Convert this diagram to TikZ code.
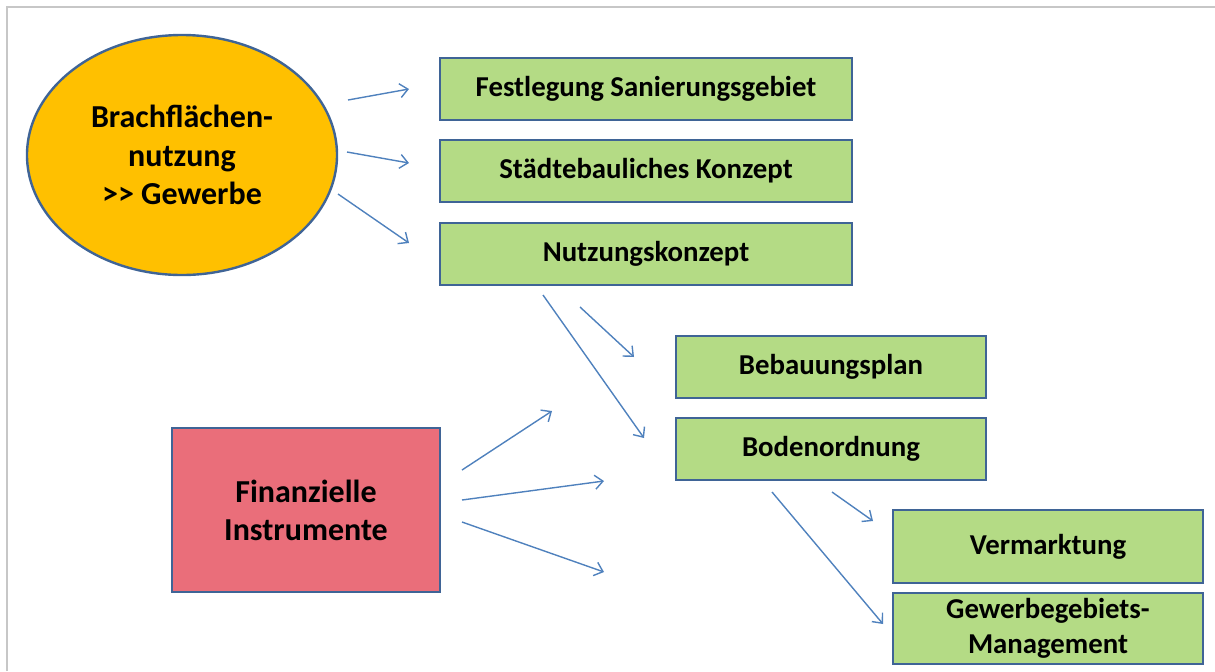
\documentclass[tikz,border=0pt]{standalone}
\usepackage{fontspec}
\setmainfont{Carlito}
\usetikzlibrary{
    arrows.meta,
    shapes.geometric
}
\definecolor{rahmen}{RGB}{63,100,150}
\definecolor{gruen}{RGB}{180,219,133}
\definecolor{gold}{RGB}{255,192,0}
\definecolor{rosa}{RGB}{234,110,122}
\definecolor{pfeilblau}{RGB}{79,129,189}
\tikzset {
    frame/.style = {draw = black!22, line width = 1pt},
    box/.style = {
        draw = rahmen, line width = 1.2pt, fill = gruen,
        minimum width = 206pt, minimum height = 31pt,
        align = center, inner sep = 0pt,
        font = \fontsize{14.4}{17.5}\selectfont\bfseries
    },
    smallbox/.style = {box, minimum width = 155pt},
    oval/.style = {
        ellipse, draw = rahmen, line width = 1.2pt, fill = gold,
        minimum width = 155pt, minimum height = 120pt,
        align = center, inner sep = 0pt,
        font = \fontsize{16}{19.3}\selectfont\bfseries
    },
    redbox/.style = {
        draw = rahmen, line width = 1.2pt, fill = rosa,
        minimum width = 134pt, minimum height = 82pt,
        align = center, inner sep = 0pt,
        font = \fontsize{16}{19}\selectfont\bfseries
    },
    pfeil/.style = {
        draw = pfeilblau, line width = 0.7pt,
        -{Straight Barb[length = 4pt, width = 7pt]}
    }
}
\begin{document}
\begin{tikzpicture}[x = 0.5pt, y = -0.5pt]
            \useasboundingbox (0, 0) rectangle (1215, 671);
            \draw [frame] (7, 671) -- (7, 7) -- (1215, 7);
            % ovals and boxes
            \node (brache) [oval] at (182, 155) {Brachflächen-\\nutzung\\>{}> Gewerbe};
            \node (sanierung) [box] at (646, 89) {Festlegung Sanierungsgebiet};
            \node (konzept) [box] at (646, 171) {Städtebauliches Konzept};
            \node (nutzung) [box] at (646, 254) {Nutzungskonzept};
            \node (bplan) [smallbox] at (831, 367) {Bebauungsplan};
            \node (boden) [smallbox] at (831, 449) {Bodenordnung};
            \node (markt) [smallbox, minimum height = 36.5pt] at (1048, 546.5) {Vermarktung};
            \node (management) [smallbox, minimum height = 35.5pt] at (1048, 628.5) {Gewerbegebiets-\\Management};
            \node (finanz) [redbox] at (306, 510) {Finanzielle\\Instrumente};
            % loose arrow ends
            \coordinate (b1) at (348, 100);  \coordinate (b1e) at (409, 89);
            \coordinate (b2) at (347, 152);  \coordinate (b2e) at (409, 163);
            \coordinate (b3) at (338, 194);  \coordinate (b3e) at (409, 243);
            \coordinate (n1) at (543, 295);  \coordinate (n1e) at (644, 438);
            \coordinate (n2) at (580, 307);  \coordinate (n2e) at (634, 357);
            \coordinate (f1) at (462, 470);  \coordinate (f1e) at (552, 411);
            \coordinate (f2) at (462, 500);  \coordinate (f2e) at (604, 481);
            \coordinate (f3) at (462, 522);  \coordinate (f3e) at (604, 572);
            \coordinate (d1) at (772, 492);  \coordinate (d1e) at (883, 624);
            \coordinate (d2) at (832, 492);  \coordinate (d2e) at (873, 521);
            \draw [pfeil] (b1) -- (b1e);
            \draw [pfeil] (b2) -- (b2e);
            \draw [pfeil] (b3) -- (b3e);
            \draw [pfeil] (n1) -- (n1e);
            \draw [pfeil] (n2) -- (n2e);
            \draw [pfeil] (f1) -- (f1e);
            \draw [pfeil] (f2) -- (f2e);
            \draw [pfeil] (f3) -- (f3e);
            \draw [pfeil] (d1) -- (d1e);
            \draw [pfeil] (d2) -- (d2e);
        \end{tikzpicture}
\end{document}
